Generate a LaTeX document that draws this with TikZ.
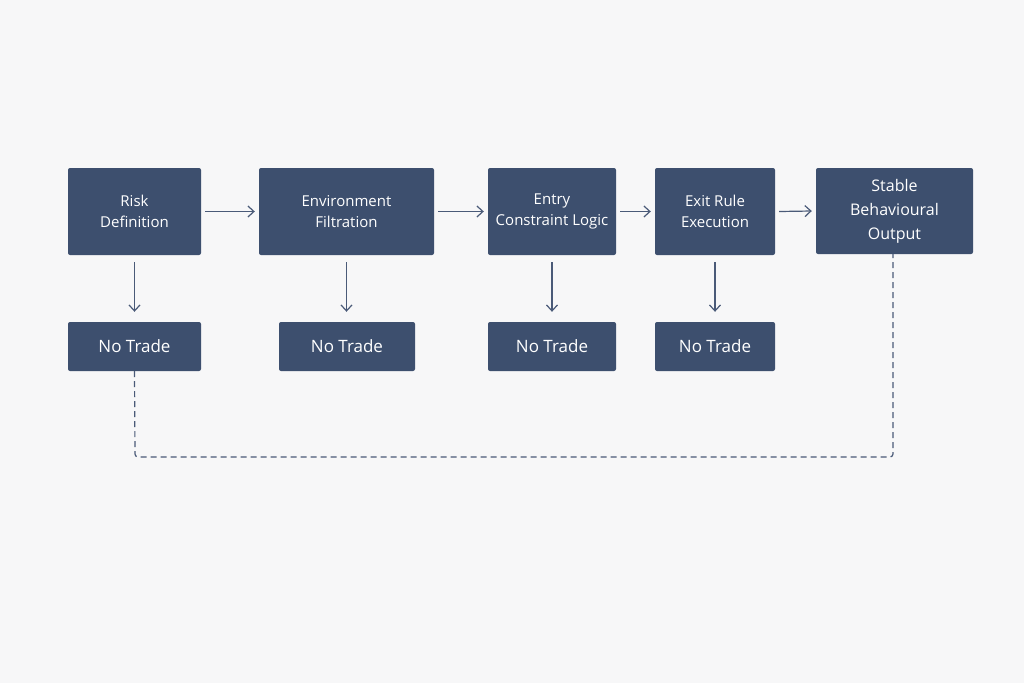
\documentclass[tikz,border=0pt]{standalone}
\usepackage{fontspec}
\setmainfont{Open Sans}
\usetikzlibrary{arrows.meta}
\definecolor{boxc}{HTML}{3D4F6E}
\definecolor{linec}{HTML}{4A5A78}
\definecolor{bg}{HTML}{F7F7F8}
\begin{document}
\begin{tikzpicture}[x=1pt,y=-1pt,
  box/.style={fill=boxc,draw=none,rounded corners=2pt,text=white,align=center,font=\fontsize{15}{21}\selectfont,inner sep=0pt},
  nt/.style={box,font=\fontsize{17}{21}\selectfont},
  arr/.style={draw=linec,line width=1.2pt,-{Straight Barb[length=6pt,width=11pt]}}]
\fill[bg] (0,0) rectangle (1024,683);
\useasboundingbox (0,0) rectangle (1024,683);
\node[box,minimum width=133pt,minimum height=87pt] (b1) at (134.5,211.5) {Risk\\Definition};
\node[box,minimum width=175pt,minimum height=87pt] (b2) at (346.5,211.5) {Environment\\Filtration};
\node[box,minimum width=128pt,minimum height=87pt] (b3) at (552,211.5) {Entry\\Constraint Logic};
\node[box,minimum width=120pt,minimum height=87pt] (b4) at (715,211.5) {Exit Rule\\Execution};
\node[box,minimum width=157pt,minimum height=86pt,font=\fontsize{16}{24}\selectfont] (b5) at (894.5,211) {Stable\\Behavioural\\Output};
\node[nt,minimum width=133pt,minimum height=49pt] (n1) at (134.5,346.5) {No Trade};
\node[nt,minimum width=136pt,minimum height=49pt] (n2) at (347,346.5) {No Trade};
\node[nt,minimum width=128pt,minimum height=49pt] (n3) at (552,346.5) {No Trade};
\node[nt,minimum width=120pt,minimum height=49pt] (n4) at (715,346.5) {No Trade};
\draw[arr] ([xshift=4pt]b1.east) -- ([xshift=-4pt]b2.west);
\draw[arr] ([xshift=4pt]b2.east) -- ([xshift=-4pt]b3.west);
\draw[arr] ([xshift=4pt]b3.east) -- ([xshift=-4pt]b4.west);
\draw[arr] ([xshift=4pt]b4.east) -- ([xshift=-4pt]b5.west);
\draw[arr] ([yshift=-7pt]b1.south) -- ([yshift=10pt]n1.north);
\draw[arr] ([yshift=-7pt]b2.south) -- ([yshift=10pt]n2.north -| b2.south);
\draw[arr] ([yshift=-7pt]b3.south) -- ([yshift=10pt]n3.north);
\draw[arr] ([yshift=-7pt]b4.south) -- ([yshift=10pt]n4.north);
\coordinate (d1) at (135,457);
\coordinate (d2) at (893,457);
\draw[linec,line width=1.2pt,dash pattern=on 6pt off 4pt,rounded corners=3pt] (n1.south) -- (d1) -- (d2) -- (b5.south -| d2);
\end{tikzpicture}
\end{document}
